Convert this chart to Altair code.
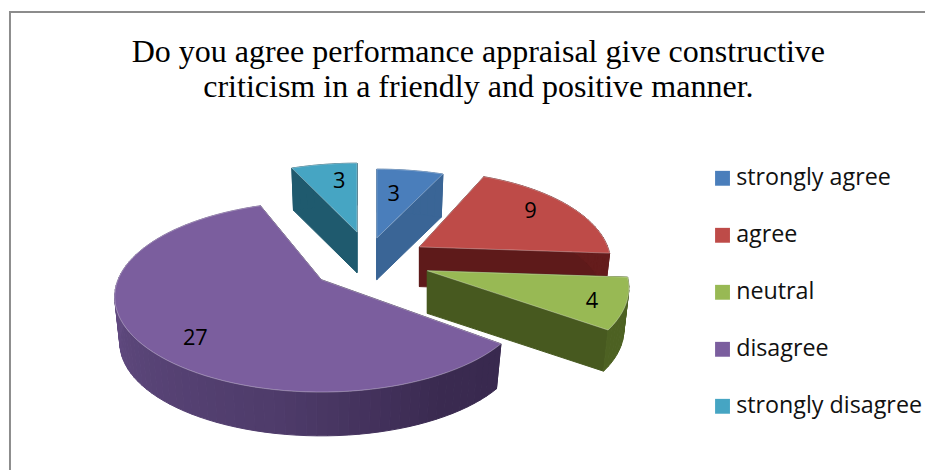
import math
import altair as alt

# ---- chart values ----
categories = ["strongly agree", "agree", "neutral", "disagree", "strongly disagree"]
values = [3, 9, 4, 27, 3]
title_lines = ["Do you agree performance appraisal give constructive",
               "criticism in a friendly and positive manner."]
top_colors = ["#4a7ebb", "#be4b48", "#98b954", "#7b5e9e", "#46a5c3"]

# ---- look of the pseudo-3D pie (one entry per slice) ----
apex_x = [380, 423, 431, 324, 360]
apex_y = [238, 247, 271, 280, 232]
rad_x = [195, 190, 200, 205, 192]
rad_y = [82, 90, 93, 93, 82]
depth = [42, 40, 43, 47, 41]
view_turn = [0, 0, 0, 3, 0]
face_colors = ["#3a6596", "#5e1a1a", "#47591f", "#3a2a50", "#1f5a6e"]
rim_stops = [
    [(0, "#3a6596"), (360, "#3a6596")],
    [(0, "#651c1c"), (360, "#651c1c")],
    [(0, "#4d6122"), (360, "#4d6122")],
    [(0, "#33244a"), (150, "#3a2a50"), (190, "#4e3b6a"), (270, "#624c82"), (360, "#624c82")],
    [(0, "#1f5a6e"), (360, "#1f5a6e")],
]
label_x = [397, 535, 597, 197, 342]
label_y = [194, 211, 302, 339, 181]
PERSPECTIVE = 0.18
INSET = 0.975
# slices are painted back-to-front in this order
paint_order = [1, 2, 4, 0, 3]

total = sum(values)
starts = []
acc = 0
for v, turn in zip(values, view_turn):
    starts.append(acc / total * 360 + turn)
    acc += v
ends = [s + v / total * 360 for s, v in zip(starts, values)]


def rim(i, deg, bottom=False):
    t = math.radians(deg)
    X, Y = math.sin(t), math.cos(t)
    s = 1 / (1 + PERSPECTIVE * Y)
    f = INSET if bottom else 1
    return [apex_x[i] + rad_x[i] * X * s * f,
            apex_y[i] - rad_y[i] * Y * s * f + (depth[i] if bottom else 0)]


def shade(stops, deg):
    for (a, ca), (b, cb) in zip(stops, stops[1:]):
        if a <= deg <= b:
            u = (deg - a) / (b - a)
            rgb = [round(int(ca[j:j + 2], 16) * (1 - u) + int(cb[j:j + 2], 16) * u) for j in (1, 3, 5)]
            return "#%02x%02x%02x" % tuple(rgb)
    return stops[-1][1]


def poly(points, **props):
    return {"type": "Feature", "properties": props,
            "geometry": {"type": "Polygon", "coordinates": [points + [points[0]]]}}


side_features, top_features = [], []
for i in paint_order:
    a_top = [apex_x[i], apex_y[i]]
    a_bot = [apex_x[i], apex_y[i] + depth[i]]
    for deg in (starts[i], ends[i]):
        side_features.append(poly([a_top, rim(i, deg), rim(i, deg, True), a_bot], fill=face_colors[i]))
    n = max(2, int((ends[i] - starts[i]) / 2.5))
    degs = [starts[i] + (ends[i] - starts[i]) * j / n for j in range(n + 1)]
    for d0, d1 in zip(degs, degs[1:]):
        side_features.append(poly([rim(i, d0), rim(i, d1), rim(i, d1, True), rim(i, d0, True)],
                                  fill=shade(rim_stops[i], (d0 + d1) / 2)))
    top_features.append(poly([a_top] + [rim(i, d) for d in degs], category=categories[i]))

projection = dict(type="identity", scale=1, translate=[-8, -8])

sides = alt.Chart(alt.Data(values=side_features)).mark_geoshape(strokeWidth=1).encode(
    fill=alt.Fill("properties.fill:N", scale=None, legend=None),
    stroke=alt.Stroke("properties.fill:N", scale=None, legend=None),
).project(**projection)

tops = alt.Chart(alt.Data(values=top_features)).mark_geoshape(
    stroke="#ffffff", strokeWidth=0.8, strokeOpacity=0.4
).encode(
    color=alt.Color("properties.category:N",
                    scale=alt.Scale(domain=categories, range=top_colors),
                    legend=alt.Legend(title=None, orient="none", legendX=709, legendY=158,
                                      symbolType="square", symbolSize=225, symbolStrokeWidth=0,
                                      labelFont="Open Sans", labelFontSize=23.5, labelColor="#111111",
                                      labelOffset=2, rowPadding=32.5, labelLimit=300)),
).project(**projection)

label_rows = [{"lx": x, "ly": y, "v": v} for x, y, v in zip(label_x, label_y, values)]
labels = alt.Chart(alt.Data(values=label_rows)).mark_text(
    font="Open Sans", fontSize=22, color="#000000", baseline="middle", align="center"
).encode(
    x=alt.X("lx:Q", scale=None, axis=None),
    y=alt.Y("ly:Q", scale=None, axis=None),
    text="v:N",
)

# shift label pixel positions into the chart's own frame (page margin 8px)
labels = labels.transform_calculate(lx="datum.lx - 8", ly="datum.ly - 8")

frame_left = alt.Chart(alt.Data(values=[{"a": 1}])).mark_rule(color="#8c8c8c", strokeWidth=2).encode(
    x=alt.value(2), y=alt.value(1), y2=alt.value(464))
frame_top = alt.Chart(alt.Data(values=[{"a": 1}])).mark_rule(color="#8c8c8c", strokeWidth=2).encode(
    y=alt.value(2), x=alt.value(1), x2=alt.value(925))

chart = alt.layer(frame_left, frame_top, sides, tops, labels).resolve_scale(
    color="independent", fill="independent", stroke="independent"
).properties(
    width=925, height=464, padding=0, autosize=alt.AutoSizeParams(type="none"),
    background="#ffffff",
    title=alt.TitleParams(text=title_lines, anchor="middle", frame="group", orient="top",
                          font="Liberation Serif", fontSize=32.3, fontWeight="normal",
                          color="#000000", lineHeight=35.5, baseline="alphabetic",
                          offset=0, dx=12, dy=120.5),
).configure_view(stroke=None)

chart.save("out.html", embed_options={"renderer": "svg", "actions": False})
